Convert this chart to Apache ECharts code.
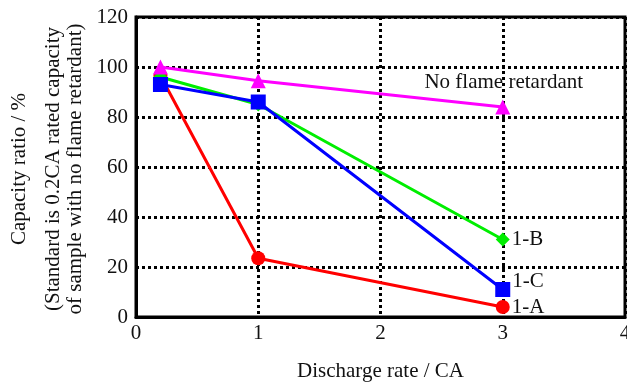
<!DOCTYPE html>
<html>
<head>
<meta charset="utf-8">
<script src="https://cdn.jsdelivr.net/npm/echarts@6/dist/echarts.min.js"></script>
<style>html,body{margin:0;padding:0;background:#fff;}#c{width:627px;height:382px;}</style>
</head>
<body>
<div id="c"></div>
<script>
const rates = [0.2, 1, 3];
const seriesNames = ['1-A', '1-B', '1-C', 'No flame retardant'];
const valuesA = [96.5, 23.5, 4];
const valuesB = [96, 85, 31];
const valuesC = [93, 86, 11];
const valuesNone = [100, 94.5, 84];
const xTicks = [0, 1, 2, 3, 4];
const yTicks = [0, 20, 40, 60, 80, 100, 120];
const xTitle = 'Discharge rate / CA';
const yTitle1 = 'Capacity ratio / %';
const yTitle2 = '(Standard is 0.2CA rated capacity';
const yTitle3 = 'of sample with no flame retardant)';

const FONT = '"Liberation Serif", "Times New Roman", serif';
const chart = echarts.init(document.getElementById('c'), null, {renderer: 'canvas'});

function pts(vals) { return rates.map((r, i) => [r, vals[i]]); }

function mk(name, vals, color, symbol, size, labelOpt) {
  const d = pts(vals).map((p, i) => {
    if (i === rates.length - 1) {
      return {value: p, label: Object.assign({show: true, formatter: name, color: '#111', fontFamily: FONT, fontSize: 21}, labelOpt)};
    }
    return {value: p};
  });
  return {
    name: name, type: 'line', data: d, symbol: symbol, symbolSize: size,
    lineStyle: {color: color, width: 3}, itemStyle: {color: color},
    z: 3, animation: false
  };
}

const option = {
  animation: false,
  grid: {left: 136, right: 2, top: 17, bottom: 65, outerBoundsMode: 'none', containLabel: false, show: true, borderColor: '#000', borderWidth: 3, backgroundColor: 'transparent'},
  xAxis: {
    type: 'value', min: xTicks[0], max: xTicks[xTicks.length - 1], interval: 1,
    axisLine: {show: true, lineStyle: {color: '#000', width: 3}},
    axisTick: {show: false},
    axisLabel: {color: '#111', fontFamily: FONT, fontSize: 21, margin: 6},
    splitLine: {show: true, lineStyle: {color: '#000', width: 3, type: [3, 3]}},
    name: xTitle, nameLocation: 'middle', nameGap: 44,
    nameTextStyle: {color: '#111', fontFamily: FONT, fontSize: 21}
  },
  yAxis: {
    type: 'value', min: yTicks[0], max: yTicks[yTicks.length - 1], interval: 20,
    axisLine: {show: true, lineStyle: {color: '#000', width: 3}},
    axisTick: {show: false},
    axisLabel: {color: '#111', fontFamily: FONT, fontSize: 21, margin: 8},
    splitLine: {show: true, lineStyle: {color: '#000', width: 3, type: [3, 3]}}
  },
  graphic: [
    {type: 'text', x: 19, y: 169, rotation: Math.PI / 2, style: {text: yTitle1, font: '21px ' + FONT, fill: '#111', align: 'center', verticalAlign: 'middle'}},
    {type: 'text', x: 53, y: 169, rotation: Math.PI / 2, style: {text: yTitle2, font: '21px ' + FONT, fill: '#111', align: 'center', verticalAlign: 'middle'}},
    {type: 'text', x: 75, y: 169, rotation: Math.PI / 2, style: {text: yTitle3, font: '21px ' + FONT, fill: '#111', align: 'center', verticalAlign: 'middle'}}
  ],
  series: [
    mk(seriesNames[0], valuesA, '#ff0000', 'circle', 14, {position: 'right', distance: 2}),
    mk(seriesNames[1], valuesB, '#00ee00', 'diamond', 14, {position: 'right', distance: 2}),
    mk(seriesNames[2], valuesC, '#0000ff', 'rect', 15, {position: 'right', distance: 2, offset: [0, -8]}),
    mk(seriesNames[3], valuesNone, '#ff00ff', 'triangle', 15, {position: 'inside', offset: [1, -25]})
  ]
};
chart.setOption(option);
</script>
</body>
</html>
